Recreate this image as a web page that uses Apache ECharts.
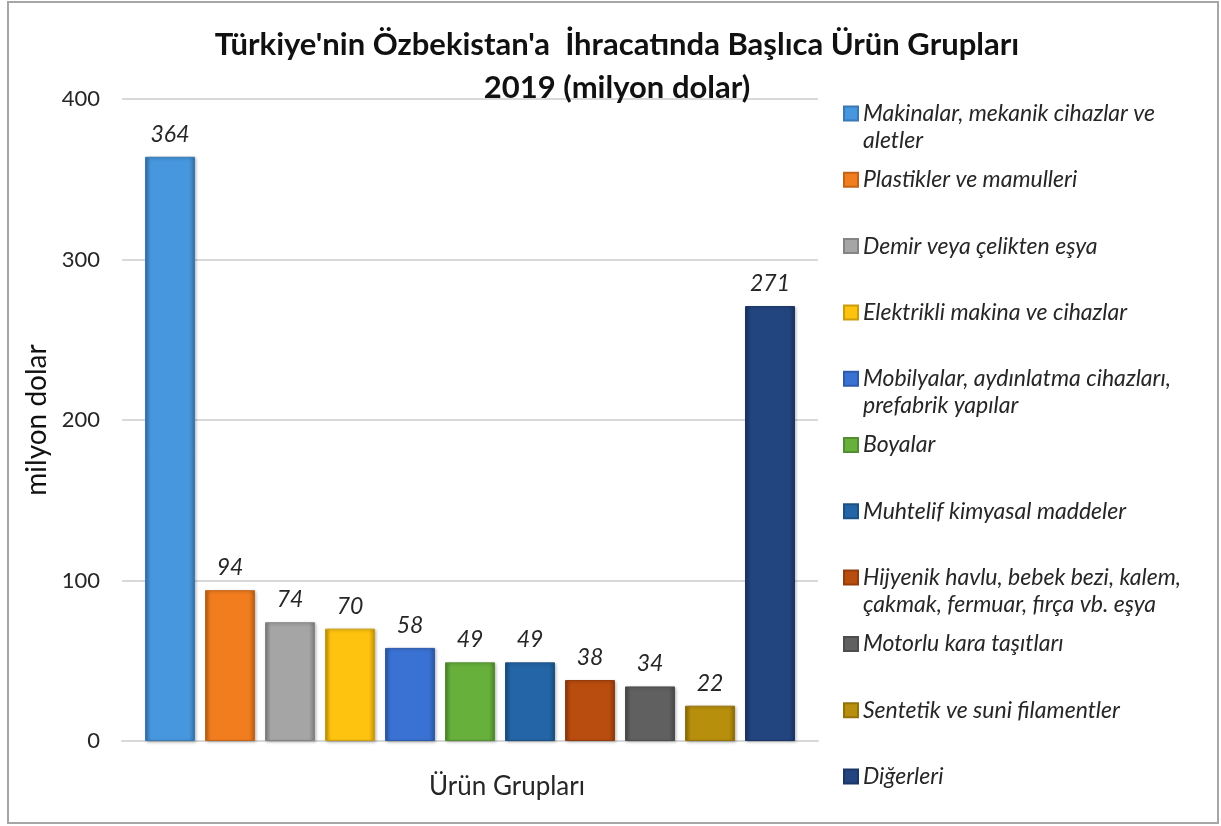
<!DOCTYPE html>
<html>
<head>
<meta charset="utf-8">
<script src="https://cdn.jsdelivr.net/npm/echarts@6/dist/echarts.min.js"></script>
<style>
html,body{margin:0;padding:0;background:#fff;}
#chart{width:1221px;height:826px;}
</style>
</head>
<body>
<div id="chart"></div>
<script>
const titleLines = ["Türkiye'nin Özbekistan'a  İhracatında Başlıca Ürün Grupları", "2019 (milyon dolar)"];
const categories = [
  "Makinalar, mekanik cihazlar ve aletler",
  "Plastikler ve mamulleri",
  "Demir veya çelikten eşya",
  "Elektrikli makina ve cihazlar",
  "Mobilyalar, aydınlatma cihazları, prefabrik yapılar",
  "Boyalar",
  "Muhtelif kimyasal maddeler",
  "Hijyenik havlu, bebek bezi, kalem, çakmak, fermuar, fırça vb. eşya",
  "Motorlu kara taşıtları",
  "Sentetik ve suni filamentler",
  "Diğerleri"
];
const legendLines = {
  "Makinalar, mekanik cihazlar ve aletler": ["Makinalar, mekanik cihazlar ve", "aletler"],
  "Mobilyalar, aydınlatma cihazları, prefabrik yapılar": ["Mobilyalar, aydınlatma cihazları,", "prefabrik yapılar"],
  "Hijyenik havlu, bebek bezi, kalem, çakmak, fermuar, fırça vb. eşya": ["Hijyenik havlu, bebek bezi, kalem,", "çakmak, fermuar, fırça vb. eşya"]
};
const values = [364, 94, 74, 70, 58, 49, 49, 38, 34, 22, 271];
const colors = ["#4797de", "#f27d1e", "#a5a5a5", "#fec30f", "#3a72d4", "#67b03c", "#2365a6", "#b94c0f", "#606060", "#b88f0c", "#22447f"];
const yTicks = { min: 0, max: 400, interval: 100 };
const xAxisName = "Ürün Grupları";
const yAxisName = "milyon dolar";

function shade(hex, f) {
  const n = parseInt(hex.slice(1), 16);
  let r = (n >> 16) & 255, g = (n >> 8) & 255, b = n & 255;
  if (f < 0) { r = Math.round(r * (1 + f)); g = Math.round(g * (1 + f)); b = Math.round(b * (1 + f)); }
  else { r = Math.round(r + (255 - r) * f); g = Math.round(g + (255 - g) * f); b = Math.round(b + (255 - b) * f); }
  return "rgb(" + r + "," + g + "," + b + ")";
}

const FONT = "Lato";
const chart = echarts.init(document.getElementById('chart'), null, { renderer: 'canvas' });

const series = categories.map((name, i) => ({
  name: name,
  type: 'bar',
  barWidth: 50,
  barGap: '20%',
  data: [values[i]],
  itemStyle: {
    color: {
      type: 'linear', x: 0, y: 0, x2: 1, y2: 0,
      colorStops: [
        { offset: 0, color: shade(colors[i], -0.25) },
        { offset: 0.12, color: colors[i] },
        { offset: 0.88, color: colors[i] },
        { offset: 1, color: shade(colors[i], -0.25) }
      ]
    },
    borderColor: shade(colors[i], -0.2),
    borderWidth: 1,
    shadowColor: 'rgba(0,0,0,0.25)',
    shadowBlur: 3,
    shadowOffsetX: 1,
    shadowOffsetY: 1
  },
  label: {
    show: true,
    position: 'top',
    distance: 11,
    fontFamily: FONT,
    fontStyle: 'italic',
    fontSize: 23,
    color: '#262626'
  }
}));

const legendTop0 = 95;
const legendStep = 66.3;
const legends = categories.map((name, i) => {
  const multi = !!legendLines[name];
  return {
    data: [{ name: name, icon: 'rect' }],
    orient: 'vertical',
    left: 838,
    top: multi ? legendTop0 + i * legendStep - 27 : legendTop0 + i * legendStep,
    itemWidth: 14,
    itemHeight: 14,
    itemGap: 8,
    selectedMode: false,
    formatter: function (n) {
      const l = legendLines[n];
      return l ? "\n" + l.join("\n") : n;
    },
    textStyle: {
      fontFamily: FONT,
      fontStyle: 'italic',
      fontSize: 23,
      lineHeight: 27,
      color: '#262626'
    }
  };
});

chart.setOption({
  animation: false,
  backgroundColor: '#ffffff',
  title: [
    {
      text: titleLines[0] + "\n" + titleLines[1],
      left: 612,
      textAlign: 'center',
      top: 18,
      textStyle: { fontFamily: FONT, fontWeight: 'bold', fontSize: 31, lineHeight: 43, color: '#111111' }
    }
  ],
  graphic: [
    {
      type: 'rect',
      shape: { x: 8, y: 2, width: 1210, height: 821 },
      style: { fill: 'none', stroke: '#a6a6a6', lineWidth: 2 },
      silent: true
    }
  ],
  legend: legends,
  grid: { left: 122, right: 403, top: 99, bottom: 85, containLabel: false },
  xAxis: {
    type: 'category',
    data: [''],
    axisTick: { show: false },
    axisLabel: { show: false },
    axisLine: { show: true, lineStyle: { color: '#d9d9d9', width: 2 } },
    name: xAxisName,
    nameLocation: 'middle',
    nameGap: 33,
    nameTextStyle: { fontFamily: FONT, fontSize: 26, color: '#262626', padding: [0, 0, 0, 74] }
  },
  yAxis: {
    type: 'value',
    min: yTicks.min,
    max: yTicks.max,
    interval: yTicks.interval,
    axisLine: { show: false },
    axisTick: { show: false },
    axisLabel: { fontFamily: FONT, fontSize: 22, color: '#262626', margin: 22 },
    splitLine: { lineStyle: { color: '#d9d9d9', width: 2 } },
    name: yAxisName,
    nameLocation: 'middle',
    nameGap: 60,
    nameRotate: 90,
    nameTextStyle: { fontFamily: FONT, fontSize: 28, color: '#111111' }
  },
  series: series
});
</script>
</body>
</html>
